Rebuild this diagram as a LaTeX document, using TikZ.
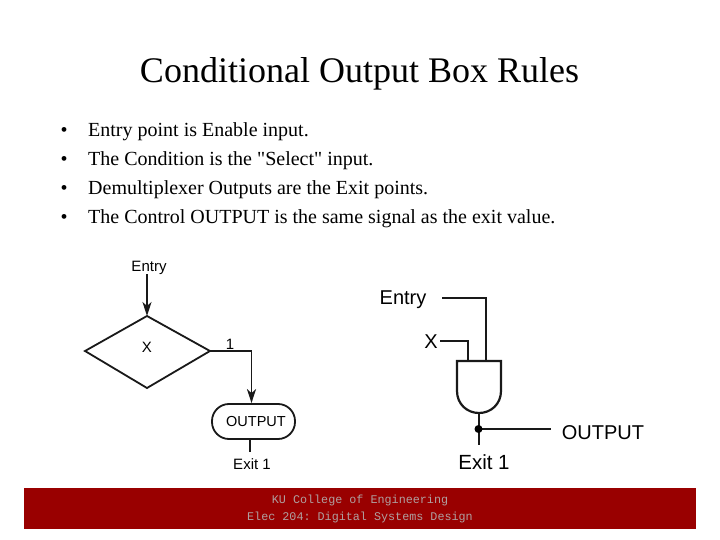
\documentclass[tikz,border=0pt]{standalone}
\usepackage{fontspec}
\setmainfont{Liberation Serif}
\setsansfont{Liberation Sans}
\setmonofont{Liberation Mono}
\newfontfamily\bodyfam{Liberation Serif}
\usetikzlibrary{arrows.meta}
\definecolor{barred}{HTML}{990000}
\definecolor{bartext}{HTML}{B0A0A0}
\tikzset{
  wire/.style={line width=1.8pt,draw=black!90},
  thinwire/.style={line width=1.6pt,draw=black!90},
  flow/.style={wire,-{Stealth[length=14pt,width=9pt,inset=4pt]}},
  lbl/.style={font=\sffamily\fontsize{15}{17}\selectfont,inner sep=0pt,text=black},
  biglbl/.style={font=\sffamily\fontsize{20}{23}\selectfont,inner sep=0pt,text=black},
  bodytext/.style={font=\bodyfam\fontsize{20}{24}\selectfont,anchor=base west,inner sep=0pt},
  bulletmark/.style={font=\bodyfam\fontsize{20}{24}\selectfont,anchor=base,inner sep=0pt},
  footertext/.style={font=\ttfamily\fontsize{11.75}{17}\selectfont,text=bartext,align=center,inner sep=0pt}
}
\begin{document}
\begin{tikzpicture}[x=1pt,y=-1pt]
\useasboundingbox (0,0) rectangle (720,540);
\fill[white] (0,0) rectangle (720,540);
\node[font=\fontsize{36}{42}\selectfont,inner sep=0pt] (title) at (359.5,74) {Conditional Output Box Rules};
\foreach \yy/\tt/\nn in {137/Entry point is Enable input./a,
  166/The Condition is the "Select" input./b,
  195/Demultiplexer Outputs are the Exit points./c,
  224/The Control OUTPUT is the same signal as the exit value./d}{
  \node[bulletmark] (bul\nn) at (64,\yy) {•};
  \node[bodytext] (txt\nn) at (88,\yy) {\tt};
}
% flowchart
\node[lbl] (fentry) at (149,267.5) {Entry};
\coordinate (ftop) at (147,316);
\coordinate (fleft) at (85,351);
\coordinate (fright) at (210,351);
\coordinate (fbot) at (147,388);
\draw[wire] (ftop) -- (fright) -- (fbot) -- (fleft) -- cycle;
\node[lbl] (fx) at (147,347) {X};
\node[lbl] (fone) at (230,344) {1};
\node[wire,draw,rounded corners=17pt,minimum width=83pt,minimum height=35pt,inner sep=0pt,font=\sffamily\fontsize{14.5}{17}\selectfont,text=black] (fout) at (253.5,421.5) {\hspace{5pt}OUTPUT};
\node[lbl] (fexit) at (252,464) {Exit 1};
\coordinate (fturn) at (251.5,351);
\coordinate (fstub) at (250,452);
\draw[flow] (fentry.south -| ftop) -- (ftop);
\draw[flow] (fright) -- (fturn) -- (fturn |- fout.north);
\draw[wire] (fstub |- fout.south) -- (fstub);
% gate
\node[biglbl] (gentry) at (403,300) {Entry};
\node[biglbl] (gx) at (431,342) {X};
\node[biglbl] (gout) at (603,432.5) {OUTPUT};
\node[font=\sffamily\fontsize{20.5}{23}\selectfont,inner sep=0pt,text=black] (gexit) at (484,462) {Exit 1};
\coordinate (ga) at (486,361);
\coordinate (gb) at (468,361);
\coordinate (gq) at (479,413);
\coordinate (gd) at (478.5,429);
\coordinate (ge) at (479,445);
\coordinate (gf) at (551,429);
\coordinate (genl) at (442,298);
\coordinate (gxl) at (440,341);
\draw[wire,line width=2.2pt,line join=miter] (457,361) -- (501,361) -- (501,391) .. controls (501,404) and (491,413) .. (gq) .. controls (467,413) and (457,404) .. (457,391) -- cycle;
\draw[thinwire] (genl) -| (ga);
\draw[thinwire] (gxl) -| (gb);
\draw[wire] (gq) -- (ge);
\draw[thinwire] (gd) -- (gf);
\fill (gd) circle (4pt);
% footer
\fill[barred] (24,488) rectangle (696,529);
\node[footertext] (foot) at (360,508.5) {KU College of Engineering\\Elec 204: Digital Systems Design};
\end{tikzpicture}
\end{document}
